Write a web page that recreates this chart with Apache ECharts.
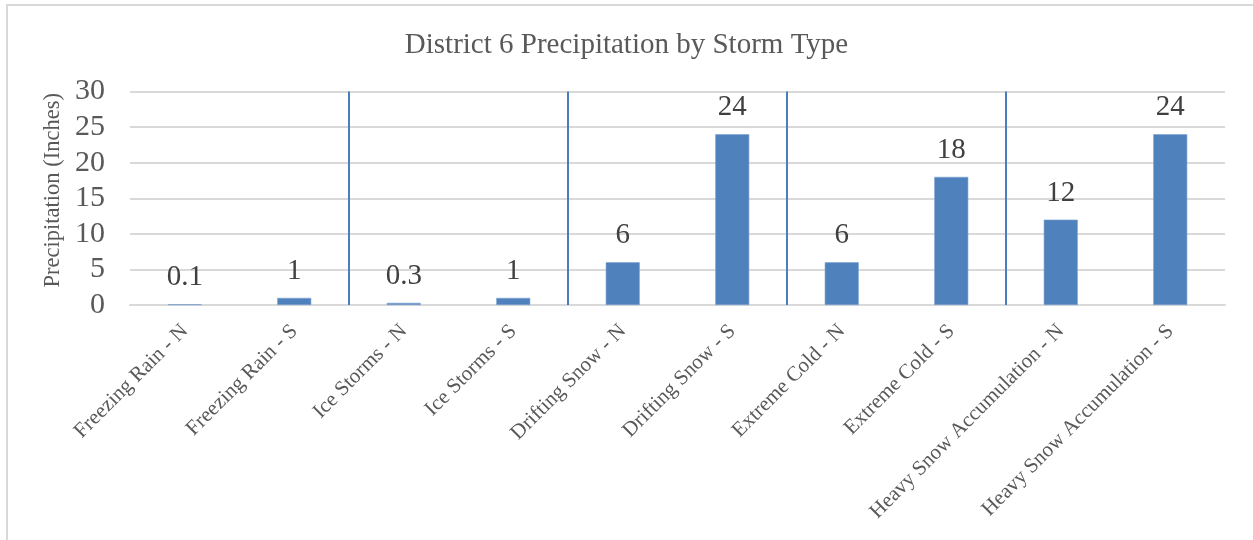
<!DOCTYPE html>
<html>
<head>
<meta charset="utf-8">
<script src="https://cdn.jsdelivr.net/npm/echarts@6/dist/echarts.min.js"></script>
<style>
  html, body { margin: 0; padding: 0; overflow: hidden; background: #fff; }
  #frame { position: absolute; left: 6px; top: 4px; width: 2000px; height: 2000px;
           border-left: 2px solid #d9d9d9; border-top: 2px solid #d9d9d9; pointer-events: none; }
  #chart { position: absolute; left: 0; top: 0; width: 1253px; height: 540px; }
</style>
</head>
<body>
<div id="chart"></div>
<div id="frame"></div>
<script>
const titleText = 'District 6 Precipitation by Storm Type';
const yAxisName = 'Precipitation (Inches)';
const categories = [
  'Freezing Rain - N', 'Freezing Rain - S',
  'Ice Storms - N', 'Ice Storms - S',
  'Drifting Snow - N', 'Drifting Snow - S',
  'Extreme Cold - N', 'Extreme Cold - S',
  'Heavy Snow Accumulation - N', 'Heavy Snow Accumulation - S'
];
const values = [0.1, 1, 0.3, 1, 6, 24, 6, 18, 12, 24];
const yMin = 0, yMax = 30, yStep = 5;
const groupSize = 2; // N / S pair per storm type

const FONT = "'Liberation Serif', 'Times New Roman', serif";
const chart = echarts.init(document.getElementById('chart'), null, { renderer: 'canvas' });

const separators = [];
for (let i = groupSize; i < categories.length; i += groupSize) separators.push({ xAxis: i });

chart.setOption({
  animation: false,
  backgroundColor: 'transparent',
  title: {
    text: titleText,
    left: 'center',
    top: 26,
    textStyle: { fontFamily: FONT, fontSize: 29, fontWeight: 'normal', color: '#595959' }
  },
  grid: { left: 130, right: 28, top: 91.5, bottom: 235, containLabel: false, outerBoundsMode: 'none' },
  xAxis: [{
    type: 'category',
    data: categories,
    boundaryGap: true,
    axisLine: { show: true, lineStyle: { color: '#d9d9d9', width: 2 } },
    axisTick: { show: false },
    axisLabel: {
      interval: 0,
      rotate: 45,
      margin: 23,
      fontFamily: FONT,
      fontSize: 21,
      color: '#595959'
    },
    splitLine: { show: false }
  }, {
    type: 'value',
    min: 0,
    max: categories.length,
    show: false
  }],
  yAxis: {
    type: 'value',
    min: yMin,
    max: yMax,
    interval: yStep,
    name: yAxisName,
    nameLocation: 'middle',
    nameGap: 63,
    nameTextStyle: { fontFamily: FONT, fontSize: 22.5, color: '#595959', padding: [0, 0, 0, 16] },
    axisLine: { show: false },
    axisTick: { show: false },
    axisLabel: { margin: 25, fontFamily: FONT, fontSize: 30, color: '#595959' },
    splitLine: { show: true, lineStyle: { color: '#d9d9d9', width: 2 } }
  },
  series: [{
    type: 'bar',
    data: values,
    barWidth: 34,
    itemStyle: { color: '#4f81bd', borderColor: '#7ea3d1', borderWidth: 0.6 },
    label: {
      show: true,
      position: 'top',
      distance: 12,
      fontFamily: FONT,
      fontSize: 29,
      color: '#404040'
    }
  }, {
    type: 'line',
    xAxisIndex: 1,
    data: [],
    silent: true,
    markLine: {
      silent: true,
      symbol: 'none',
      label: { show: false },
      lineStyle: { color: '#4a7ebb', width: 2, type: 'solid' },
      data: separators
    }
  }]
});
</script>
</body>
</html>
